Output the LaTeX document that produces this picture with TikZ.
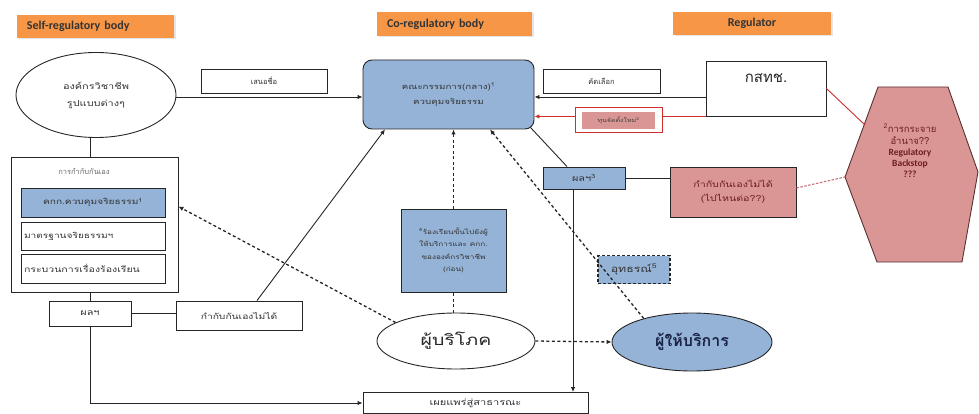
\documentclass[tikz,border=0pt]{standalone}
\usepackage{fontspec}
\setmainfont{Carlito}
\newfontfamily\thaifont[Script=Thai,FakeStretch=1.3]{Loma}
\newfontfamily\thaiplain[Script=Thai]{Loma}
\usetikzlibrary{shapes.geometric,arrows.meta,shadows}
\definecolor{hdrorange}{RGB}{247,150,70}
\definecolor{boxblue}{RGB}{149,179,215}
\definecolor{boxpink}{RGB}{217,150,148}
\definecolor{redline}{RGB}{205,45,45}
\definecolor{reddash}{RGB}{200,110,120}
\definecolor{hexborder}{RGB}{90,50,50}
\definecolor{hextext}{RGB}{110,30,30}
\definecolor{navy}{RGB}{25,35,70}
\newcommand{\tf}[2]{\thaifont\fontsize{#1}{#2}\selectfont}
\newcommand{\tp}[2]{\thaiplain\fontsize{#1}{#2}\selectfont}
\begin{document}
\begin{tikzpicture}[x=1pt,y=-1pt,
  box/.style={draw=black!85,line width=0.9pt,inner sep=0pt,align=center,
    font=\tp{7.5}{12},text=black!80},
  hdr/.style={fill=hdrorange,inner ysep=0pt,inner xsep=10pt,
    font=\bfseries\fontsize{12}{13}\selectfont,text=black!80,
    drop shadow={shadow xshift=1.5pt,shadow yshift=-1.5pt,fill=black!20}},
  conn/.style={draw=black!85,line width=0.9pt},
  arr/.style={conn,-{Latex[length=5pt,width=4.5pt]}},
  darr/.style={conn,line width=1.3pt,dash pattern=on 3pt off 2.5pt},
  redconn/.style={draw=redline,line width=0.9pt},
  reddashed/.style={draw=reddash,line width=1.1pt,dash pattern=on 2.5pt off 1.5pt},
  tip/.style={-{Latex[length=5pt,width=4.5pt]}},
  ell/.style={ellipse,draw=black!85,line width=0.9pt,inner sep=0pt}
]
\useasboundingbox (0,0) rectangle (979,414);

% headers
\node[hdr,text width=137pt,minimum height=23pt,align=left] (h1) at (95.5,26.5) {Self-regulatory body};
\node[hdr,text width=135pt,minimum height=24pt,align=left] (h2) at (454.5,24) {Co-regulatory body};
\node[hdr,text width=138pt,minimum height=23pt,align=center] (h3) at (752,23.5) {Regulator};

% top row
\node[ell,minimum width=160pt,minimum height=85pt,align=center,
  font=\tf{8.4}{17},text=black!80] (org) at (96,95) {องค์กรวิชาชีพ\\รูปแบบต่างๆ};
\node[box] at (264,81) [minimum width=126pt,minimum height=24pt] (nom) {เสนอชื่อ};
\node[box,fill=boxblue,rounded corners=9pt,minimum width=171pt,minimum height=69pt,
  font=\tf{7.5}{15}] (co) at (448.5,94.5) {คณะกรรมการ(กลาง)\textsuperscript{1}\\ควบคุมจริยธรรม};
\node[box,minimum width=117pt,minimum height=24pt] (sel) at (601.5,81) {คัดเลือก};
\node[box,minimum width=120pt,minimum height=55pt] (nbtc) at (766,88.5) {};
\node[inner sep=0pt,font=\tp{15}{16},text=black!85] (nbtct) at (766,78) {กสทช.};
\node[draw=redline,line width=0.9pt,minimum width=87pt,minimum height=25pt,inner sep=0pt] (fundo) at (618.5,120) {};
\node[fill=boxpink,minimum width=73pt,minimum height=17pt,inner sep=0pt,
  font=\tf{5.4}{6},text=black!75] (fund) at (618.5,120.5) {ทุนจัดตั้งใหม่\textsuperscript{2}};

% hexagon
\coordinate (hA) at (878,87);
\coordinate (hB) at (948,87);
\coordinate (hC) at (978,172);
\coordinate (hD) at (962,262);
\coordinate (hE) at (877,262);
\coordinate (hF) at (845,177);
\coordinate (hlink) at (865,125);
\draw[fill=boxpink,draw=hexborder,line width=0.9pt] (hA) -- (hB) -- (hC) -- (hD) -- (hE) -- (hF) -- cycle;
\node[align=center,inner sep=0pt,text=hextext,font=\fontsize{9.5}{11}\selectfont] (hext) at (910,151)
  {{\tp{9.5}{12}\textsuperscript{2}การกระจาย}\\[1pt]{\tp{9.5}{12}อำนาจ??}\\\textbf{Regulatory}\\\textbf{Backstop}\\\textbf{???}};

% self-regulation block
\node[box,minimum width=167pt,minimum height=135pt] (self) at (94.5,224.5) {};
\node[inner sep=0pt,font=\tp{7.5}{8},text=black!60] (selft) at (84,171) {การกำกับกันเอง};
\node[box,fill=boxblue,minimum width=144pt,minimum height=29pt,font=\tf{7.8}{9}] (eth) at (93,202.5) {คกก.ควบคุมจริยธรรม\textsuperscript{1}};
\node[box,minimum width=144pt,minimum height=28pt,text width=138pt,align=left,font=\tf{7.8}{9}] (std) at (93,236) {มาตรฐานจริยธรรมฯ};
\node[box,minimum width=144pt,minimum height=29pt,text width=138pt,align=left,font=\tf{8.1}{9}] (proc) at (93,268.5) {กระบวนการเรื่องร้องเรียน};

\node[box,minimum width=82pt,minimum height=25pt,font=\tf{8.4}{9}] (res1) at (90,313.5) {ผลฯ};
\node[box,minimum width=126pt,minimum height=29pt,font=\tf{7.9}{9}] (ctrl) at (239,315.5) {กำกับกันเองไม่ได้};
\node[box,minimum width=225pt,minimum height=21pt,font=\tf{8.5}{9}] (pub) at (475.5,403) {เผยแพร่สู่สาธารณะ};

% middle
\node[box,fill=boxblue,minimum width=105pt,minimum height=83pt,
  font=\tf{6.3}{12.5}] (comp) at (453.5,250.5)
  {\textsuperscript{4}ร้องเรียนขั้นไปยังผู้\\ให้บริการและ คกก.\\ขององค์กรวิชาชีพ\\(ก่อน)};
\node[box,fill=boxblue,minimum width=82pt,minimum height=22pt,font=\tf{8.4}{9}] (res3) at (584,178) {ผลฯ\textsuperscript{3}};
\node[box,fill=boxpink,minimum width=126pt,minimum height=50pt,text=hextext,
  font=\tf{8.2}{14}] (ctrl2) at (733,192) {กำกับกันเองไม่ได้\\(ไปไหนต่อ??)};
\node[box,fill=boxblue,dashed,dash pattern=on 3pt off 2pt,line width=1.1pt,minimum width=72pt,minimum height=28pt,
  font=\tf{9.5}{10}] (app) at (634,269.5) {อุทธรณ์\textsuperscript{5}};

\node[ell,minimum width=158pt,minimum height=56pt,font=\tf{15}{16},text=black!85] (cons) at (456,341) {ผู้บริโภค};
\node[ell,fill=boxblue,minimum width=160pt,minimum height=58pt,font=\thaiplain\bfseries\fontsize{16}{17}\selectfont,text=navy] (prov) at (692,342) {ผู้ให้บริการ};

% connectors: top row
\draw[arr] (org.east |- 0,97) -- (co.west |- 0,97);
\draw[arr] (nbtc.west |- 0,97) -- (co.east |- 0,97);
\draw[redconn] (nbtc.south west) -- (fundo.east |- nbtc.south west);
\draw[redconn,tip] (fundo.west |- nbtc.south west) -- (co.east |- nbtc.south west);
\draw[redconn] (nbtc.east) -- (hlink);
\draw[reddashed] ([yshift=4pt]ctrl2.east) -- (hF);

% left column
\draw[conn] (res1.north |- org.south) -- (res1.north |- self.north);
\draw[conn] (res1.north |- self.south) -- (res1.north);
\draw[conn] (res1.east) -- (ctrl.west |- res1.east);
\draw[arr] (res1.south) -- (res1.south |- pub.west) -- (pub.west);
\draw[arr] ([xshift=18pt]ctrl.north) -- ([xshift=-63.5pt]co.south);

% middle connectors
\draw[conn] ([xshift=-4pt,yshift=2pt]co.south east) -- ([xshift=-17pt]res3.north);
\draw[arr] ([xshift=-11pt]res3.south) -- ([xshift=-11pt]res3.south |- pub.north);
\draw[conn] (res3.east) -- (res3.east -| ctrl2.west);
\draw[darr,tip] (comp.north) -- (comp.north |- co.south);
\draw[darr] (comp.south |- cons.north) -- (comp.south);
\draw[darr,tip] (cons.163) -- ([yshift=-4pt]eth.east -| self.east);
\draw[darr,tip] (cons.east) -- (prov.west);
\draw[darr,tip] (prov.154) -- ([xshift=41.5pt]co.south);
\end{tikzpicture}
\end{document}
